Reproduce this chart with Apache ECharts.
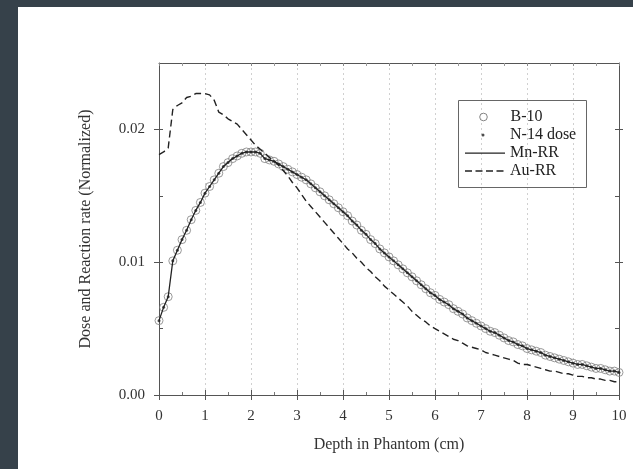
<!DOCTYPE html>
<html><head><meta charset="utf-8">
<script src="https://cdn.jsdelivr.net/npm/echarts@6/dist/echarts.min.js"></script>
<style>
html,body{margin:0;padding:0;background:#36414a;width:633px;height:469px;overflow:hidden}
#c{position:absolute;left:18px;top:7px;width:615px;height:462px;background:#fff}
</style></head><body><div id="c"></div>
<script>
// Depth grid (cm), 0.1 cm steps
const depth = Array.from({length: 101}, (_, i) => +(i * 0.1).toFixed(1));

// B-10 dose (normalized)
const b10 = [
  0.0056,0.0066,0.0074,0.0101,0.0109,0.0117,0.0124,0.0132,0.0139,0.0145,
  0.0152,0.0157,0.0162,0.0167,0.0172,0.0175,0.0178,0.0180,0.0182,0.0183,
  0.0183,0.0183,0.0182,0.0178,0.0177,0.0176,0.0174,0.0172,0.0170,0.0168,
  0.0166,0.0164,0.0162,0.0159,0.0156,0.0153,0.0150,0.0147,0.0144,0.0141,
  0.0138,0.0135,0.0131,0.0128,0.0124,0.0121,0.0117,0.0114,0.0110,0.0107,
  0.0104,0.0101,0.0098,0.0095,0.0092,0.0089,0.0086,0.0083,0.0080,0.0077,
  0.0075,0.0072,0.0070,0.0068,0.0065,0.0063,0.0061,0.0058,0.0056,0.0054,
  0.0052,0.0050,0.0048,0.0047,0.0045,0.0043,0.0041,0.0040,0.0038,0.0037,
  0.0035,0.0034,0.0033,0.0032,0.0030,0.0029,0.0028,0.0027,0.0026,0.0025,
  0.0024,0.0023,0.0023,0.0022,0.0021,0.0020,0.0020,0.0019,0.0018,0.0018,
  0.0017
];
// N-14 dose and Mn reaction rate coincide with B-10 in the picture
const n14 = b10;
const mnRR = b10;

// Au reaction rate (normalized)
const auRR = [
  0.0181,0.0183,0.0186,0.0215,0.0218,0.0220,0.0224,0.0225,0.0227,0.0227,
  0.0227,0.0226,0.0222,0.0213,0.0211,0.0208,0.0206,0.0204,0.0200,0.0196,
  0.0192,0.0188,0.0185,0.0182,0.0179,0.0176,0.0173,0.0169,0.0165,0.0160,
  0.0156,0.0151,0.0146,0.0142,0.0138,0.0134,0.0130,0.0126,0.0122,0.0118,
  0.0114,0.0110,0.0107,0.0103,0.0100,0.0096,0.0093,0.0089,0.0086,0.0082,
  0.0079,0.0076,0.0073,0.0070,0.0067,0.0063,0.0060,0.0057,0.0055,0.0052,
  0.0050,0.0048,0.0046,0.0044,0.0042,0.0041,0.0039,0.0037,0.0036,0.0035,
  0.0034,0.0032,0.0031,0.0030,0.0029,0.0028,0.0027,0.0026,0.0024,0.0023,
  0.0023,0.0022,0.0021,0.0020,0.0019,0.0018,0.0018,0.0017,0.0016,0.0016,
  0.0015,0.0014,0.0014,0.0013,0.0013,0.0012,0.0012,0.0011,0.0011,0.0010,
  0.0010
];

const yMajor = [0, 0.01, 0.02];
const yMinorAll = [0, 0.005, 0.01, 0.015, 0.02];
const yRightMajor = [0.01, 0.02];

const pair = arr => depth.map((d, i) => [d, arr[i]]);

const FONT = "'Liberation Serif','DejaVu Serif',serif";
const AX = '#555';

const chart = echarts.init(document.getElementById('c'));
const baseX = {type: 'value', min: 0, max: 10, interval: 1};
const baseY = {type: 'value', min: 0, max: 0.025};
const line = (show) => ({show: show, onZero: false, lineStyle: {color: AX, width: 1}});
const legendBase = {
  orient: 'vertical', left: 447, padding: 0, selectedMode: false,
  itemWidth: 40, itemHeight: 8, itemGap: 0,
  textStyle: {fontFamily: FONT, fontSize: 16, color: '#222'}
};
chart.setOption({
  animation: false,
  grid: {left: 141, right: 14, top: 56, bottom: 74},
  xAxis: [
    Object.assign({}, baseX, {
      position: 'bottom',
      axisLine: line(true),
      axisTick: {show: true, inside: false, length: 5, lineStyle: {color: AX}},
      axisLabel: {margin: 14, fontFamily: FONT, fontSize: 15, color: '#333'},
      splitLine: {show: true, lineStyle: {color: '#d0d0d0', type: [2, 3], width: 1}},
      name: 'Depth in Phantom (cm)', nameLocation: 'middle', nameGap: 42,
      nameTextStyle: {fontFamily: FONT, fontSize: 16, color: '#333'}
    }),
    Object.assign({}, baseX, {
      position: 'bottom',
      axisLine: line(false),
      axisTick: {show: true, inside: true, length: 5, lineStyle: {color: AX}},
      minorTick: {show: true, splitNumber: 2, length: 3, lineStyle: {color: '#777'}},
      axisLabel: {show: false}, splitLine: {show: false}
    }),
    Object.assign({}, baseX, {
      position: 'top',
      axisLine: line(true),
      axisTick: {show: true, inside: true, length: 3, lineStyle: {color: '#888'}},
      minorTick: {show: true, splitNumber: 2, length: 3, lineStyle: {color: '#999'}},
      axisLabel: {show: false}, splitLine: {show: false}
    })
  ],
  yAxis: [
    Object.assign({}, baseY, {
      position: 'left',
      axisLine: line(true),
      axisTick: {show: true, inside: false, length: 5, customValues: yMajor, lineStyle: {color: AX}},
      axisLabel: {customValues: yMajor, margin: 14, fontFamily: FONT, fontSize: 15, color: '#333',
        formatter: v => v.toFixed(2)},
      splitLine: {show: false},
      name: 'Dose and Reaction rate (Normalized)', nameLocation: 'middle', nameGap: 65,
      nameTextStyle: {fontFamily: FONT, fontSize: 16, color: '#333'}
    }),
    Object.assign({}, baseY, {
      position: 'left',
      axisLine: line(false),
      axisTick: {show: true, inside: true, length: 4, customValues: yMinorAll, lineStyle: {color: AX}},
      axisLabel: {show: false}, splitLine: {show: false}
    }),
    Object.assign({}, baseY, {
      position: 'right',
      axisLine: line(true),
      axisTick: {show: true, inside: false, length: 4, customValues: yRightMajor, lineStyle: {color: AX}},
      axisLabel: {show: false}, splitLine: {show: false}
    }),
    Object.assign({}, baseY, {
      position: 'right',
      axisLine: line(false),
      axisTick: {show: true, inside: true, length: 4, customValues: yMinorAll, lineStyle: {color: AX}},
      axisLabel: {show: false}, splitLine: {show: false}
    })
  ],
  legend: [
    Object.assign({}, legendBase, {top: 102,
      data: [{name: 'B-10', icon: 'path://M0,0M40,8M14.2,4a3.8,3.8 0 1,0 7.6,0a3.8,3.8 0 1,0 -7.6,0Z',
        itemStyle: {color: '#fff', borderColor: '#666', borderWidth: 1}}]}),
    Object.assign({}, legendBase, {top: 120,
      data: [{name: 'N-14 dose', icon: 'path://M0,0M40,8M16.5,4a1.5,1.5 0 1,0 3,0a1.5,1.5 0 1,0 -3,0Z',
        itemStyle: {color: '#222'}}]}),
    Object.assign({}, legendBase, {top: 138,
      data: [{name: 'Mn-RR', icon: 'path://M0,0M40,8M0,3.4H40V4.7H0Z', itemStyle: {color: '#222'}}]}),
    Object.assign({}, legendBase, {top: 156,
      data: [{name: 'Au-RR', icon: 'path://M0,0M40,8M0,3.3H7V4.7H0Z M10.5,3.3H17.5V4.7H10.5Z M21,3.3H28V4.7H21Z M31.5,3.3H38.5V4.7H31.5Z', itemStyle: {color: '#222'}}]})
  ],
  graphic: [{
    type: 'rect', left: 440, top: 93, silent: true, z: 5,
    shape: {width: 128, height: 87},
    style: {fill: 'transparent', stroke: '#666', lineWidth: 1}
  }],
  series: [
    {
      name: 'B-10', type: 'scatter', data: pair(b10), symbol: 'circle', symbolSize: 8,
      itemStyle: {color: 'rgba(255,255,255,0)', borderColor: '#808080', borderWidth: 1},
      emphasis: {disabled: true}, z: 2
    },
    {
      name: 'Mn-RR', type: 'line', data: pair(mnRR), showSymbol: false, symbol: 'none',
      lineStyle: {color: '#222', width: 1.3}, itemStyle: {color: '#222'},
      emphasis: {disabled: true}, z: 3
    },
    {
      name: 'N-14 dose', type: 'scatter', data: pair(n14), symbol: 'circle', symbolSize: 3,
      itemStyle: {color: '#222'}, emphasis: {disabled: true}, z: 4
    },
    {
      name: 'Au-RR', type: 'line', data: pair(auRR), showSymbol: false, symbol: 'none',
      lineStyle: {color: '#222', width: 1.4, type: [7, 4]}, itemStyle: {color: '#222'},
      emphasis: {disabled: true}, z: 3
    }
  ]
});
</script></body></html>
